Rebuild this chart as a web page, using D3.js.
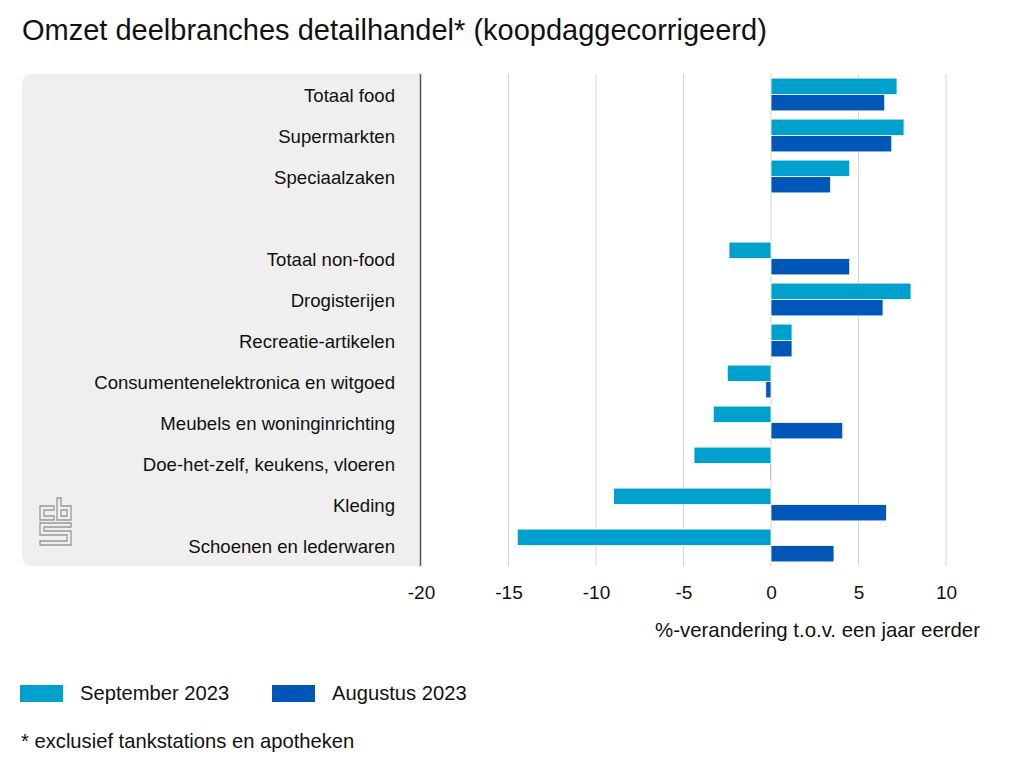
<!DOCTYPE html>
<html><head><meta charset="utf-8">
<script src="https://cdn.jsdelivr.net/npm/d3@7"></script>
<style>body{margin:0;background:#fff;font-family:"Liberation Sans",Arial,Helvetica,sans-serif}</style>
</head><body><svg id="c" width="1024" height="768"></svg>
<script>
const categories = ["Totaal food","Supermarkten","Speciaalzaken","","Totaal non-food","Drogisterijen","Recreatie-artikelen","Consumentenelektronica en witgoed","Meubels en woninginrichting","Doe-het-zelf, keukens, vloeren","Kleding","Schoenen en lederwaren"];
const september2023 = [7.2, 7.6, 4.5, null, -2.4, 8.0, 1.2, -2.5, -3.3, -4.4, -9.0, -14.5];
const augustus2023 = [6.5, 6.9, 3.4, null, 4.5, 6.4, 1.2, -0.3, 4.1, -0.05, 6.6, 3.6];
const seriesNames = ["September 2023","Augustus 2023"];
const colors = ["#00a0cc","#0057b8"];
const xTicks = [-20,-15,-10,-5,0,5,10];

(function(){
const svg = d3.select("#c");
const pTop = 74, pBottom = 566, pLeft = 421, pRight = 946;
const x = d3.scaleLinear().domain([-20,10]).range([pLeft,pRight]);
const y = d3.scaleBand().domain(categories.map((c,i)=>i)).range([pTop,pBottom]).paddingInner(0.2).paddingOuter(0.1);
const y2 = d3.scaleBand().domain([0,1]).range([0,y.bandwidth()]);

svg.append("text").attr("x",22).attr("y",40).attr("font-size",29).attr("fill","#111")
  .text("Omzet deelbranches detailhandel* (koopdaggecorrigeerd)");

// panel
const px=22, pw=pLeft-1-px, ph=pBottom-pTop, r=10;
svg.append("path").attr("fill","#efefef")
  .attr("d",`M${px+pw},${pTop} H${px+r} Q${px},${pTop} ${px},${pTop+r} V${pTop+ph-r} Q${px},${pTop+ph} ${px+r},${pTop+ph} H${px+pw} Z`);

// grid
svg.append("g").selectAll("line").data(xTicks.filter(t=>t>-20)).join("line")
  .attr("x1",d=>x(d)).attr("x2",d=>x(d)).attr("y1",pTop).attr("y2",pBottom)
  .attr("stroke","#d4d4d4").attr("stroke-width",1);

// axis
const ax = svg.append("g").attr("transform",`translate(0,${pBottom})`)
  .call(d3.axisBottom(x).tickValues(xTicks).tickSize(0).tickPadding(20).tickFormat(d=>String(d)));
ax.select(".domain").remove();
ax.selectAll("text").attr("font-size",19).attr("fill","#111").attr("font-family","Liberation Sans, Arial, sans-serif");
svg.append("line").attr("x1",pLeft-0.5).attr("x2",pLeft-0.5).attr("y1",pTop).attr("y2",pBottom).attr("stroke","#555").attr("stroke-width",1.5);

// labels
svg.append("g").selectAll("text").data(categories).join("text")
  .attr("x",395).attr("y",(d,i)=>y(i)+y.bandwidth()/2+7).attr("text-anchor","end")
  .attr("font-size",18.6).attr("fill","#111").text(d=>d);

// bars
[september2023, augustus2023].forEach((vals,s)=>{
  svg.append("g").selectAll("rect").data(vals.map((v,i)=>({v,i})).filter(d=>d.v!==null)).join("rect")
    .attr("x",d=>x(Math.min(0,d.v))).attr("width",d=>Math.max(1,Math.abs(x(d.v)-x(0))))
    .attr("y",d=>y(d.i)+y2(s)).attr("height",y2.bandwidth())
    .attr("fill",colors[s]).attr("stroke","#fff").attr("stroke-width",0.8);
});

svg.append("text").attr("x",980).attr("y",637).attr("text-anchor","end").attr("font-size",20.4).attr("fill","#111")
  .text("%-verandering t.o.v. een jaar eerder");

// legend
const lx=[20,272];
seriesNames.forEach((n,i)=>{
  svg.append("rect").attr("x",lx[i]).attr("y",685).attr("width",43).attr("height",17).attr("fill",colors[i]);
  svg.append("text").attr("x",lx[i]+60).attr("y",700).attr("font-size",20.2).attr("fill","#111").text(n);
});
svg.append("text").attr("x",21).attr("y",748).attr("font-size",20.2).attr("fill","#111").text("* exclusief tankstations en apotheken");

// cbs logo
const lg = svg.append("g").attr("transform","translate(40,498)").attr("fill","none").attr("stroke","#999").attr("stroke-width",1.3);
lg.append("path").attr("d","M0,8 H14 V12 H4 V18 H14 V22 H0 Z");
lg.append("path").attr("d","M17,0 H21 V8 H31 V22 H17 Z M21,12 V18 H27 V12 Z");
lg.append("path").attr("d","M0,25 H31 V29 H4 V33 H31 V47 H0 V43 H27 V37 H0 Z");
})();
</script></body></html>
